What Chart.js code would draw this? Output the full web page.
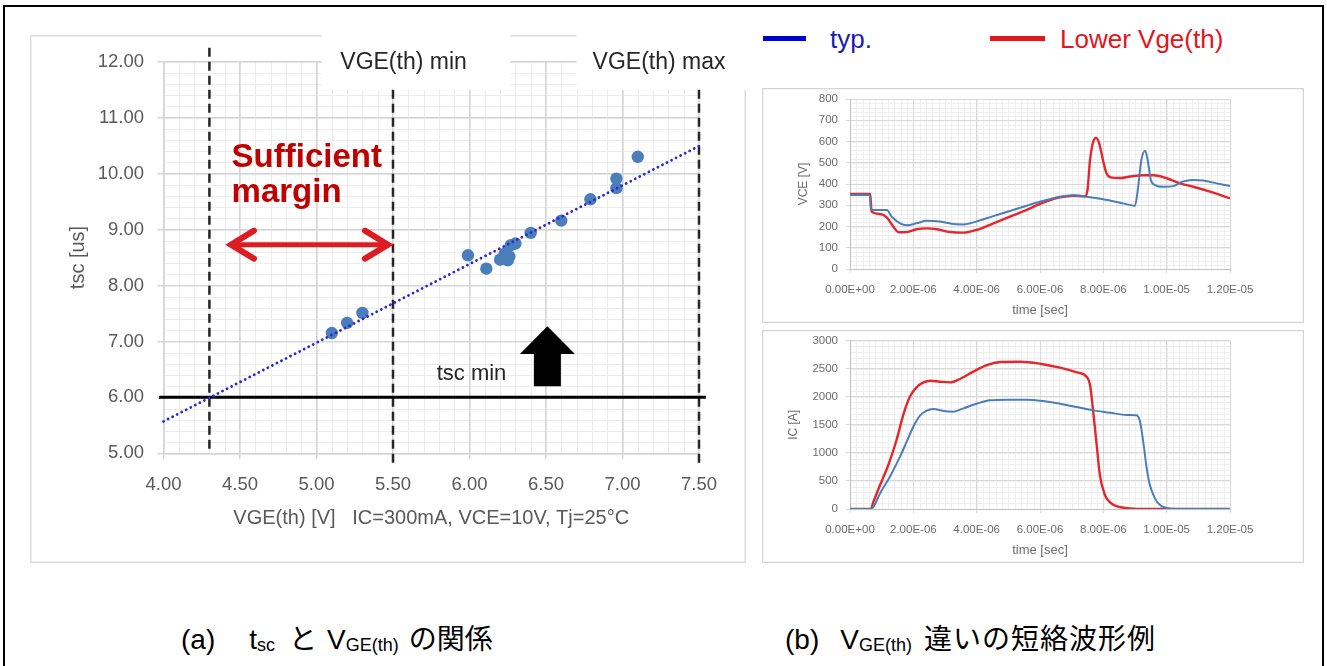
<!DOCTYPE html>
<html>
<head>
<meta charset="utf-8">
<script src="https://cdn.jsdelivr.net/npm/chart.js@4.4.1/dist/chart.umd.min.js"></script>
<style>
  body { margin:0; width:1327px; height:666px; position:relative; overflow:hidden; background:#fff;
         font-family:"Liberation Sans", Arial, sans-serif; }
  #frame { position:absolute; left:3px; top:5px; width:1321px; height:720px; border:2px solid #000; box-sizing:border-box; }
  .wrap { position:absolute; }
  #leftWrap { left:30px; top:35px; }
  #vceWrap { left:762px; top:88px; }
  #icWrap { left:762px; top:330px; }
  .lgline { position:absolute; height:5px; top:36px; }
  .lgtext { position:absolute; top:24px; font-size:26px; line-height:30px; white-space:nowrap; }
  .cap { position:absolute; top:620px; font-size:28px; line-height:34px; color:#000; white-space:nowrap;
         font-family:"Liberation Sans", Arial, "Noto Sans CJK JP", sans-serif; }
  .cap sub { font-size:18px; vertical-align:-2px; }
  .jp { font-family:"Noto Sans CJK JP", sans-serif; }
</style>
</head>
<body>
<div id="frame"></div>

<div class="wrap" id="leftWrap"><canvas id="tscChart" width="716" height="528"></canvas></div>
<div class="wrap" id="vceWrap"><canvas id="vceChart" width="542" height="235"></canvas></div>
<div class="wrap" id="icWrap"><canvas id="icChart" width="542" height="233"></canvas></div>

<div class="lgline" style="left:763px;width:43px;background:#0000d0;"></div>
<div class="lgtext" style="left:830px;color:#1a1ab8;">typ.</div>
<div class="lgline" style="left:990px;width:55px;background:#e3151d;"></div>
<div class="lgtext" style="left:1060px;color:#e3151d;">Lower Vge(th)</div>

<div class="cap" style="left:181px;">(a)<span style="margin-left:34px;">t<sub>sc</sub></span><span class="jp" style="margin-left:14px;">と</span><span style="margin-left:10px;">V<sub>GE(th)</sub></span><span class="jp" style="margin-left:10px;">の関係</span></div>
<div class="cap" style="left:785px;">(b)<span style="margin-left:21px;">V<sub>GE(th)</sub></span><span class="jp" style="margin-left:12px;letter-spacing:1px;">違いの短絡波形例</span></div>

<script>
// ---- (a) tsc vs VGE(th) ----
var vgeTh = [5.10, 5.20, 5.30, 5.99, 6.11, 6.20, 6.23, 6.25, 6.26, 6.27, 6.30, 6.40, 6.60, 6.79, 6.96, 6.96, 7.10];
var tsc   = [7.15, 7.33, 7.51, 8.54, 8.30, 8.46, 8.57, 8.45, 8.52, 8.72, 8.75, 8.94, 9.16, 9.54, 9.74, 9.91, 10.30];
var trendX = [4.00, 7.52];
var trendY = [5.57, 10.52];
var vgeLimitX = [4.30, 5.50, 7.50];       // dashed verticals
var vgeLimitTop = [12.25, 11.50, 11.50];
var vgeLimitBottom = [5.03, 4.76, 4.78];
var tscMin = 6.00;
var tscMinSpan = [3.97, 7.545];

// ---- (b) short-circuit waveforms (time in us) ----
var tVceTyp = [0, 0.62, 0.66, 0.74, 1.16, 1.32, 1.58, 1.79, 2.1, 2.42, 2.84, 3.26, 3.58, 4.0, 4.53, 5.05, 5.58, 6.1, 6.63, 7.05, 7.47, 8.0, 8.53, 9.0, 9.1, 9.2, 9.32, 9.4, 9.5, 9.63, 9.9, 10.2, 10.5, 10.84, 11.16, 11.58, 12.0];
var vceTyp  = [348, 348, 285, 278, 278, 246, 215, 206, 215, 227, 224, 212, 210, 224, 249, 273, 298, 321, 340, 347, 340, 328, 312, 298, 387, 513, 557, 513, 419, 395, 387, 390, 411, 419, 416, 403, 390];
var tVceLow = [0, 0.64, 0.68, 0.95, 1.16, 1.37, 1.53, 1.79, 2.1, 2.42, 2.74, 3.16, 3.58, 4.0, 4.53, 5.05, 5.58, 6.1, 6.63, 7.05, 7.42, 7.5, 7.58, 7.68, 7.77, 7.87, 8.0, 8.1, 8.26, 8.53, 8.84, 9.26, 9.58, 10.0, 10.42, 10.84, 11.37, 12.0];
var vceLow  = [353, 353, 270, 259, 243, 199, 173, 174, 187, 191, 187, 174, 171, 184, 215, 246, 278, 312, 337, 345, 342, 372, 513, 599, 617, 591, 505, 450, 430, 428, 435, 441, 441, 427, 403, 387, 364, 333];

var tIcTyp = [0, 0.66, 0.74, 0.95, 1.26, 1.58, 1.79, 2.0, 2.21, 2.42, 2.63, 2.95, 3.26, 3.58, 4.0, 4.42, 4.95, 5.58, 6.1, 6.63, 7.16, 7.68, 8.21, 8.74, 9.05, 9.16, 9.26, 9.37, 9.47, 9.63, 9.79, 10.0, 10.3, 12.0];
var icTyp  = [0, 0, 40, 280, 576, 933, 1200, 1467, 1663, 1752, 1782, 1747, 1735, 1794, 1877, 1937, 1949, 1949, 1925, 1877, 1818, 1758, 1717, 1675, 1669, 1556, 1200, 725, 428, 190, 71, 18, 0, 0];
var tIcLow = [0, 0.66, 0.74, 0.95, 1.21, 1.47, 1.68, 1.89, 2.1, 2.32, 2.53, 2.84, 3.16, 3.47, 3.89, 4.32, 4.74, 5.37, 6.0, 6.63, 7.16, 7.47, 7.58, 7.68, 7.79, 7.89, 8.05, 8.21, 8.47, 8.84, 9.26, 12.0];
var icLow  = [0, 0, 130, 428, 784, 1230, 1675, 2002, 2168, 2257, 2287, 2269, 2257, 2317, 2448, 2566, 2620, 2626, 2590, 2519, 2436, 2358, 2210, 1735, 1141, 606, 250, 119, 42, 12, 0, 0];

var timeTicksUs = [0, 2, 4, 6, 8, 10, 12];

var FONT = '"Liberation Sans", Arial, sans-serif';

function pts(xs, ys) {
  return xs.map(function (x, i) { return {x: x, y: ys[i]}; });
}
function sci(v) {
  if (Math.abs(v) < 1e-15) return '0.00E+00';
  var s = v.toExponential(2).split('e');
  var e = parseInt(s[1], 10);
  return s[0] + 'E' + (e < 0 ? '-' : '+') + (Math.abs(e) < 10 ? '0' : '') + Math.abs(e);
}

// border + minor grid lines drawn under the major grid
var minorGrid = {
  id: 'minorGrid',
  beforeDraw: function (chart, args, o) {
    var ctx = chart.ctx, a = chart.chartArea, sx = chart.scales.x, sy = chart.scales.y;
    ctx.save();
    if (o.border) {
      ctx.strokeStyle = o.border; ctx.lineWidth = o.borderWidth || 1;
      ctx.strokeRect(0.5, 0.5, chart.width - 1, chart.height - 1);
    }
    ctx.strokeStyle = o.color; ctx.lineWidth = 1;
    ctx.beginPath();
    var n = Math.round((sx.max - sx.min) / o.x), i, p;
    for (i = 0; i <= n; i++) {
      p = Math.round(sx.getPixelForValue(sx.min + i * o.x)) + 0.5;
      ctx.moveTo(p, a.top); ctx.lineTo(p, a.bottom);
    }
    n = Math.round((sy.max - sy.min) / o.y);
    for (i = 0; i <= n; i++) {
      p = Math.round(sy.getPixelForValue(sy.min + i * o.y)) + 0.5;
      ctx.moveTo(a.left, p); ctx.lineTo(a.right, p);
    }
    ctx.stroke();
    ctx.restore();
  }
};

// labels, arrows and masks on the tsc chart
var tscDecor = {
  id: 'tscDecor',
  beforeDatasetsDraw: function (chart) {
    var ctx = chart.ctx, sx = chart.scales.x, sy = chart.scales.y;
    var bottom = sy.getPixelForValue(11.495);
    ctx.save();
    ctx.fillStyle = '#ffffff';
    var l1 = sx.getPixelForValue(5.036), r1 = sx.getPixelForValue(6.265);
    var l2 = sx.getPixelForValue(6.70);
    ctx.fillRect(l1, 0, r1 - l1, bottom);
    ctx.fillRect(l2, 0, chart.width - l2, bottom);
    ctx.restore();
  },
  afterDatasetsDraw: function (chart) {
    var ctx = chart.ctx, sx = chart.scales.x, sy = chart.scales.y;
    function X(v) { return sx.getPixelForValue(v); }
    function Y(v) { return sy.getPixelForValue(v); }
    ctx.save();
    ctx.textBaseline = 'middle';
    ctx.textAlign = 'center';
    ctx.fillStyle = '#262626';
    ctx.font = '23px ' + FONT;
    ctx.fillText('VGE(th) min', X(5.569), Y(11.99));
    ctx.fillText('VGE(th) max', X(7.239), Y(11.99));
    ctx.font = '22px ' + FONT;
    ctx.fillText('tsc min', X(6.013), Y(6.42));

    ctx.textAlign = 'left';
    ctx.fillStyle = '#c00000';
    ctx.font = 'bold 33px ' + FONT;
    ctx.fillText('Sufficient', X(4.445), Y(10.28));
    ctx.fillText('margin', X(4.445), Y(9.65));

    // red double arrow
    var xl = X(4.428), xr = X(5.48), ya = Y(8.73);
    ctx.strokeStyle = '#dc1c22';
    ctx.lineWidth = 5;
    ctx.beginPath(); ctx.moveTo(xl + 3, ya); ctx.lineTo(xr - 3, ya); ctx.stroke();
    ctx.lineWidth = 6; ctx.lineJoin = 'miter'; ctx.lineCap = 'round';
    ctx.beginPath();
    ctx.moveTo(xl + 25, ya - 14); ctx.lineTo(xl + 2, ya); ctx.lineTo(xl + 25, ya + 14);
    ctx.moveTo(xr - 25, ya - 14); ctx.lineTo(xr - 2, ya); ctx.lineTo(xr - 25, ya + 14);
    ctx.stroke();

    // black up arrow
    var cx = X(6.509), tip = Y(7.27), base = Y(6.775), foot = Y(6.20);
    ctx.fillStyle = '#000';
    ctx.beginPath();
    ctx.moveTo(cx, tip);
    ctx.lineTo(cx + 27.5, base); ctx.lineTo(cx + 13.5, base); ctx.lineTo(cx + 13.5, foot);
    ctx.lineTo(cx - 13.5, foot); ctx.lineTo(cx - 13.5, base); ctx.lineTo(cx - 27.5, base);
    ctx.closePath(); ctx.fill();
    ctx.restore();
  }
};

var guideSets = vgeLimitX.map(function (x, i) {
  return {
    type: 'line', data: [{x: x, y: vgeLimitTop[i]}, {x: x, y: vgeLimitBottom[i]}],
    borderColor: '#262626', borderWidth: 2.5, borderDash: [9, 5], pointRadius: 0, clip: false
  };
});

new Chart(document.getElementById('tscChart'), {
  type: 'scatter',
  data: {
    datasets: [
      { type: 'line', data: pts(trendX, trendY), borderColor: '#2a2ad0', borderWidth: 2.8,
        borderDash: [0.1, 5], borderCapStyle: 'round', pointRadius: 0, clip: false },
      { data: pts(vgeTh, tsc), backgroundColor: '#4a7ebb', borderWidth: 0, pointRadius: 6.2 },
      { type: 'line', data: pts(tscMinSpan, [tscMin, tscMin]), borderColor: '#000', borderWidth: 3,
        pointRadius: 0, clip: false }
    ].concat(guideSets)
  },
  options: {
    responsive: false, animation: false, events: [],
    layout: { padding: { left: 0, top: 26.7, right: 47, bottom: 0 }, autoPadding: false },
    plugins: {
      legend: { display: false }, tooltip: { enabled: false },
      minorGrid: { x: 0.1, y: 0.2, color: '#ececec', border: '#dcdcdc', borderWidth: 2 }
    },
    scales: {
      x: {
        type: 'linear', min: 4, max: 7.5,
        afterFit: function (s) { s.height = 109.7; s.paddingLeft = 0; s.paddingRight = 0; },
        ticks: { stepSize: 0.5, padding: 15, color: '#595959', font: { family: FONT, size: 18.5 },
                 callback: function (v) { return v.toFixed(2); } },
        grid: { color: '#d6d6d6', lineWidth: 1.5, tickLength: 6 },
        border: { color: '#d6d6d6', width: 1.5 },
        title: { display: true, text: 'VGE(th) [V]   IC=300mA, VCE=10V, Tj=25°C', color: '#595959',
                 font: { family: FONT, size: 20 }, padding: { top: 0, bottom: 33 } }
      },
      y: {
        min: 5, max: 12,
        afterFit: function (s) { s.width = 133.5; s.paddingTop = 0; s.paddingBottom = 0; },
        ticks: { stepSize: 1, padding: 13.5, color: '#595959', font: { family: FONT, size: 18.5 },
                 callback: function (v) { return v.toFixed(2); } },
        grid: { color: '#d6d6d6', lineWidth: 1.5, tickLength: 6 },
        border: { color: '#d6d6d6', width: 1.5 },
        title: { display: true, text: 'tsc [us]', color: '#595959',
                 font: { family: FONT, size: 20 }, padding: { top: 36, bottom: 0 } }
      }
    }
  },
  plugins: [minorGrid, tscDecor]
});

function waveChart(id, yTitle, yMax, yStep, yMinor, typX, typY, lowX, lowY, titlePad, topPad) {
  return new Chart(document.getElementById(id), {
    type: 'line',
    data: {
      datasets: [
        { data: pts(typX, typY), borderColor: '#4a7ebb', borderWidth: 2, pointRadius: 0,
          cubicInterpolationMode: 'monotone' },
        { data: pts(lowX, lowY), borderColor: '#e5262c', borderWidth: 2.4, pointRadius: 0,
          cubicInterpolationMode: 'monotone' }
      ]
    },
    options: {
      responsive: false, animation: false, events: [],
      layout: { padding: { left: 0, top: topPad, right: 74, bottom: 0 }, autoPadding: false },
      plugins: {
        legend: { display: false }, tooltip: { enabled: false },
        minorGrid: { x: 0.2, y: yMinor, color: '#efefef', border: '#d4d4d4', borderWidth: 1.5 }
      },
      scales: {
        x: {
          type: 'linear', min: 0, max: 12,
          afterFit: function (s) { s.height = 54; s.paddingLeft = 0; s.paddingRight = 0; },
          afterBuildTicks: function (s) { s.ticks = timeTicksUs.map(function (v) { return {value: v}; }); },
          ticks: { padding: 10, color: '#6b6b6b', font: { family: FONT, size: 11.5 },
                   callback: function (v) { return sci(v * 1e-6); } },
          grid: { color: '#d9d9d9', tickLength: 4 },
          border: { color: '#bfbfbf' },
          title: { display: true, text: 'time [sec]', color: '#6b6b6b',
                   font: { family: FONT, size: 13 }, padding: { top: 0, bottom: 4.9 } }
        },
        y: {
          min: 0, max: yMax,
          afterFit: function (s) { s.width = 88; s.paddingTop = 0; s.paddingBottom = 0; },
          ticks: { stepSize: yStep, padding: 8, color: '#6b6b6b', font: { family: FONT, size: 11.5 },
                   callback: function (v) { return String(v); } },
          grid: { color: '#d9d9d9', tickLength: 4 },
          border: { color: '#bfbfbf' },
          title: { display: true, text: yTitle, color: '#6b6b6b',
                   font: { family: FONT, size: 12 }, padding: { top: titlePad, bottom: 0 } }
        }
      }
    },
    plugins: [minorGrid]
  });
}

waveChart('vceChart', 'VCE [V]', 800, 100, 20, tVceTyp, vceTyp, tVceLow, vceLow, 34, 11);
waveChart('icChart', 'IC [A]', 3000, 500, 100, tIcTyp, icTyp, tIcLow, icLow, 24, 10.7);
</script>
</body>
</html>
